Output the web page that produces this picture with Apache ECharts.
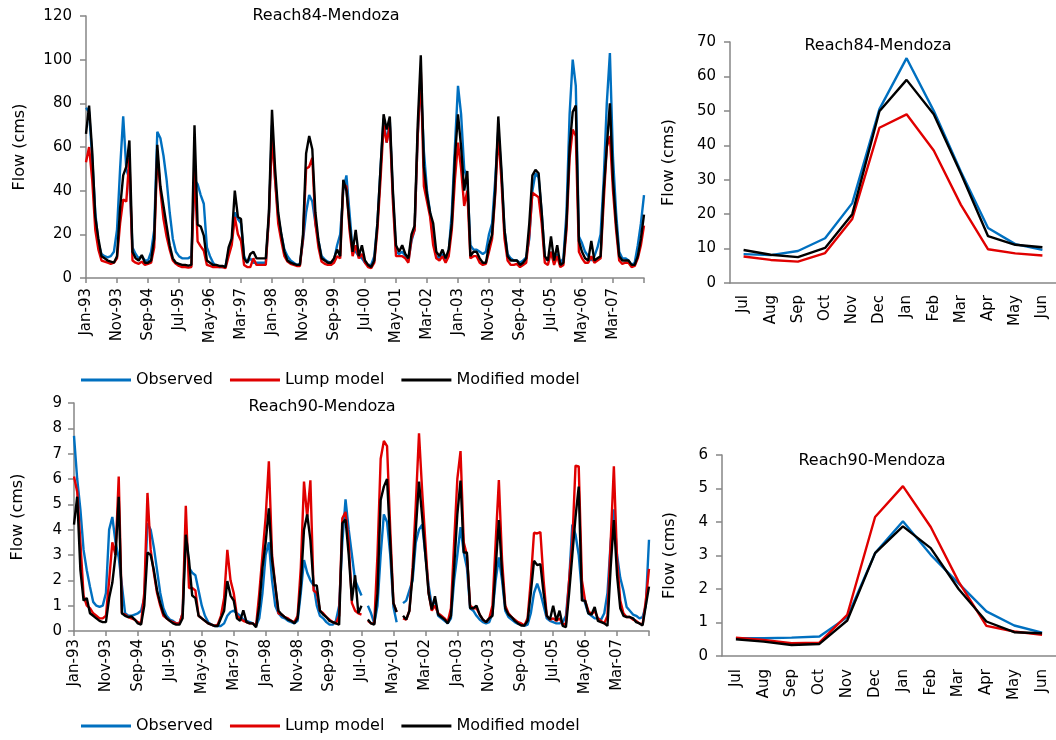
<!DOCTYPE html>
<html>
<head>
<meta charset="utf-8">
<script src="https://cdn.jsdelivr.net/npm/echarts@6/dist/echarts.min.js"></script>
<style>
html,body{margin:0;padding:0;background:#fff;}
#chart{width:1056px;height:740px;}
</style>
</head>
<body>
<div id="chart"></div>
<script>
// ---------- DATA ----------
const MONTHS = ['Jan','Feb','Mar','Apr','May','Jun','Jul','Aug','Sep','Oct','Nov','Dec'];
const START_YEAR = 1993;
const N_MONTHS = 181; // Jan-93 .. Jan-08
const seasonMonths = ['Jul','Aug','Sep','Oct','Nov','Dec','Jan','Feb','Mar','Apr','May','Jun'];
const seriesNames = ['Observed','Lump model','Modified model'];

// Reach84 monthly flows (cms)
const obs84 = [78,76,55,30,16,11,10,9.5,10,12,22,50,
74,50,45,14,11,9,10,8,8,12,22,67,
64,56,45,30,18,12,10,9,9,9,10,45,
43,38,34,14,10,7,5.5,5,5,5.5,12,17,
30,27,25,10,7,9,7,7,7,7,7,28,
70,45,28,20,13,10,8,7,6,6.5,17,30,
38,35,25,17,10,8.5,7.5,7,8,15,20,40,
47,30,13,12,10,9,7,6,6,10,25,50,
73,62,72,38,12,11,12,10,8,17,22,65,
90,58,40,30,18,10,9,11,8,12,30,60,
88,75,50,45,15,13,13,12,11,12,20,25,
45,68,48,22,11,9,8,8,7,8,9.5,18,
40,48,46,30,9,8,12,7,11,7,9,30,
75,100,88,19,16,12,10,8,10,14,20,45,
80,103,55,30,12,9,9,8,6,7,15,25,38];
const lump84 = [53,60,45,22,13,8,7.5,7,6.5,7,9,25,
36,35,55,8,7,6.5,7.5,6,6.5,7,14,57,
40,27,19,13,8,6.5,5.5,5,5,4.8,5,50,
16.8,14.5,12.5,6,5.5,5,5,5,5,4.5,10,15,
28,20,17,6,5,5,9,6,6,6,6,28,
65,45,25,17,10,7.5,6.5,6,5.5,5.5,18,50,
51,55,25,14,7.5,6.5,6,6,7,10,9,43,
42,22,10,15,9,11,7,5,4.5,7,22,45,
70,62,70,35,10,10,10,9,7,18,22,65,
95,42,35,28,15,9,8,10,7,10,22,45,
62,50,33,40,9,10,10,7,6,6.5,12,18,
38,66,45,18,8,6,6,6.5,5,6,7,20,
39,38,37,25,7,6,12,6,10,5,6,22,
55,68,65,12,9,7,7,10,7,8,9,35,
60,65,40,22,8,6.5,7,7,5,5.5,9,15,24];
const mod84 = [66,79,58,28,18,10,9,8,7.5,7,10,32,
47,51,63,12,9,8,10.5,7,7,8,18,61,
42,33,24,15,9,7,6.5,6,6,5.7,6,70,
24.4,23.6,19.4,8,7,6,6,5.5,5.5,5,14,18,
40,28,27,9,7,11,12,9,9,9,9,30,
77,50,30,20,12,8,7,6.5,6,6,20,57,
65,59,30,17,9,8,7,7,9,13,10,45,
40,25,12,22,10,15,8,6,5,8,25,50,
75,68,74,40,15,12,15,11,9,20,24,70,
102,51,38,30,25,12,10,13,9,13,25,55,
75,60,40,49,10,12,12,9,7,7,15,20,
40,74,50,22,10,8,8,8,6,7,9,25,
47,49.5,48,30,10,8,19,8,15,6,7,25,
60,76,79,17,12,9,8,17,8,9,10,40,
60,80,45,25,10,8,8,8,6,6,10,18,29];

// Reach90 monthly flows (cms)
const obs90 = [7.7,6.0,4.8,3.2,2.4,1.75,1.15,1.0,0.95,1.0,1.5,4.0,
4.5,3.5,2.9,1.8,0.7,0.6,0.6,0.65,0.7,0.8,1.3,4.25,
4.0,3.3,2.4,1.5,0.9,0.6,0.45,0.4,0.3,0.3,0.7,4.0,
2.5,2.3,2.2,1.6,1.0,0.6,0.35,0.25,0.2,0.2,0.2,0.3,
0.6,0.75,0.8,0.7,0.6,0.45,0.4,0.35,0.3,0.2,0.5,1.5,
3.0,3.5,2.0,1.0,0.7,0.55,0.5,0.4,0.35,0.3,0.4,1.5,
2.8,2.3,2.0,1.8,1.0,0.6,0.5,0.35,0.25,0.25,0.4,1.0,
3.5,5.2,4.0,3.0,2.0,1.7,1.4,null,1.0,0.7,0.3,1.0,
3.0,4.6,4.3,3.0,0.95,0.35,null,1.1,1.2,1.6,2.0,3.5,
4.0,4.2,3.0,1.8,1.0,1.2,0.6,0.5,0.4,0.3,0.5,2.0,
3.0,4.1,3.1,2.5,0.9,0.8,0.6,0.45,0.35,0.3,0.35,0.7,
2.0,2.9,2.0,0.8,0.55,0.45,0.35,0.28,0.25,0.2,0.25,0.7,
1.5,1.87,1.5,1.0,0.5,0.4,0.35,0.3,0.3,0.35,0.6,2.0,
4.2,3.8,3.0,1.5,1.1,0.7,0.6,0.5,0.5,0.45,0.7,1.5,
3.5,4.8,3.0,2.1,1.6,0.95,0.8,0.65,0.6,0.5,0.55,1.0,3.6];
const lump90 = [6.1,5.5,3.5,1.4,1.0,0.9,0.7,0.6,0.5,0.5,0.6,2.0,
3.5,3.0,6.1,0.7,0.65,0.55,0.5,0.45,0.35,0.3,1.5,5.45,
3.2,2.3,1.5,1.0,0.6,0.5,0.4,0.35,0.3,0.3,0.7,4.94,
1.7,1.7,1.6,0.6,0.5,0.4,0.3,0.25,0.2,0.25,0.6,1.3,
3.2,2.0,1.5,0.6,0.5,0.4,0.35,0.3,0.3,0.2,1.5,3.0,
4.5,6.7,3.0,1.8,0.7,0.65,0.55,0.5,0.4,0.35,0.6,2.5,
5.9,4.5,5.95,1.6,1.5,0.8,0.7,0.55,0.45,0.35,0.3,0.6,
4.45,4.7,3.5,1.1,0.8,0.7,0.65,null,0.4,0.3,0.3,3.0,
6.8,7.5,7.3,4.0,1.1,0.75,null,0.5,0.45,0.8,2.5,5.0,
7.8,5.5,3.5,1.5,0.8,1.0,0.7,0.6,0.5,0.35,0.9,3.5,
6.0,7.1,3.5,3.0,1.0,0.9,0.9,0.65,0.45,0.35,0.5,1.0,
3.5,5.96,2.8,1.0,0.7,0.55,0.45,0.35,0.3,0.22,0.5,2.0,
3.88,3.85,3.9,2.0,0.6,0.45,0.5,0.4,0.5,0.25,0.3,2.0,
3.5,6.53,6.5,2.0,1.2,0.8,0.65,0.8,0.5,0.4,0.3,0.6,
3.5,6.5,2.8,1.2,0.7,0.55,0.55,0.45,0.4,0.3,0.25,1.2,2.45];
const mod90 = [4.2,5.3,2.4,1.2,1.3,0.7,0.6,0.5,0.4,0.35,0.35,1.3,
1.9,3.0,5.3,0.7,0.6,0.55,0.58,0.45,0.3,0.25,1.0,3.1,
3.0,2.4,1.6,1.1,0.7,0.5,0.4,0.3,0.25,0.25,0.5,3.8,
2.8,1.4,1.3,0.6,0.5,0.4,0.3,0.25,0.2,0.2,0.5,0.8,
1.97,1.4,1.2,0.5,0.4,0.82,0.35,0.3,0.3,0.15,1.0,2.5,
3.5,4.84,2.8,1.8,0.8,0.65,0.55,0.45,0.4,0.3,0.5,1.8,
4.0,4.6,3.6,1.8,1.8,0.8,0.65,0.55,0.4,0.35,0.3,0.25,
4.25,4.4,3.0,1.2,2.2,0.7,1.0,null,0.45,0.3,0.25,1.5,
5.17,5.7,6.0,3.5,1.1,0.75,null,0.6,0.45,0.8,2.2,4.0,
5.9,4.5,3.0,1.5,0.85,1.37,0.65,0.55,0.45,0.3,0.6,2.5,
4.6,5.94,3.1,3.1,0.9,0.9,1.0,0.65,0.45,0.35,0.5,0.6,
2.5,4.38,2.3,0.9,0.65,0.55,0.4,0.3,0.22,0.22,0.4,1.5,
2.77,2.6,2.64,1.5,0.6,0.45,1.0,0.4,0.8,0.2,0.15,1.5,
3.0,4.5,5.7,1.2,1.2,0.7,0.65,0.95,0.4,0.35,0.3,0.2,
2.5,4.38,2.2,0.9,0.6,0.55,0.55,0.5,0.35,0.3,0.22,1.0,1.75];

// Mean monthly flows (Jul..Jun)
const obsMean84 = [8.4,8.1,9.3,13,23.2,50.5,65.3,50,32.3,16,11.3,9.6];
const lumpMean84 = [7.7,6.7,6.2,8.7,18.6,45.1,49,38.5,22.7,9.8,8.6,8];
const modMean84 = [9.6,8.2,7.5,10.2,20,49.9,59,49,31.8,13.6,11.1,10.4];
const obsMean90 = [0.53,0.53,0.55,0.58,1.16,3.07,4.02,3.02,2.17,1.33,0.91,0.7];
const lumpMean90 = [0.55,0.48,0.38,0.4,1.23,4.15,5.07,3.85,2.22,0.9,0.73,0.63];
const modMean90 = [0.5,0.43,0.33,0.36,1.06,3.07,3.87,3.22,2.0,1.03,0.71,0.68];

// ---------- BUILD ----------
const dateLabels = [];
for (let k = 0; k < N_MONTHS; k++) {
  const y = START_YEAR + Math.floor(k / 12);
  dateLabels.push(MONTHS[k % 12] + '-' + String(y % 100).padStart(2, '0'));
}

const FONT = 'DejaVu Sans';
const AXIS_COLOR = '#868686';
const COLORS = ['#0070C0', '#E00000', '#000000'];

function xTime(gridIndex, margin) {
  return {
    type: 'category', gridIndex, data: dateLabels, boundaryGap: false,
    axisLine: { lineStyle: { color: AXIS_COLOR, width: 1.5 } },
    axisTick: { length: 5, interval: (i) => i % 10 === 0, lineStyle: { color: AXIS_COLOR, width: 1.5 } },
    axisLabel: { rotate: 90, margin, interval: (i) => i % 10 === 0 && i < 180,
      fontFamily: FONT, fontSize: 15, color: '#000' },
    splitLine: { show: false }
  };
}
function xSeason(gridIndex, margin) {
  return {
    type: 'category', gridIndex, data: seasonMonths, boundaryGap: true,
    axisLine: { lineStyle: { color: AXIS_COLOR, width: 1.5 } },
    axisTick: { length: 5, lineStyle: { color: AXIS_COLOR, width: 1.5 } },
    axisLabel: { rotate: 90, margin, interval: 0, fontFamily: FONT, fontSize: 15, color: '#000' },
    splitLine: { show: false }
  };
}
function yVal(gridIndex, max, interval, nameGap, labelMargin) {
  return {
    type: 'value', gridIndex, min: 0, max, interval,
    name: 'Flow (cms)', nameLocation: 'middle', nameGap, nameRotate: 90,
    nameTextStyle: { fontFamily: FONT, fontSize: 16, color: '#000', verticalAlign: 'middle', align: 'center' },
    axisLine: { show: true, lineStyle: { color: AXIS_COLOR, width: 1.5 } },
    axisTick: { show: true, length: 6, lineStyle: { color: AXIS_COLOR, width: 1.5 } },
    axisLabel: { margin: labelMargin, fontFamily: FONT, fontSize: 15, color: '#000' },
    splitLine: { show: false }
  };
}
function line(name, idx, data, color) {
  return {
    type: 'line', name, xAxisIndex: idx, yAxisIndex: idx, data,
    showSymbol: false, symbol: 'none', connectNulls: false,
    lineStyle: { color, width: 2.4 }, itemStyle: { color },
    emphasis: { disabled: true }
  };
}
function titleText(text, x, y) {
  return { type: 'text', x, y, style: { text, align: 'center', verticalAlign: 'middle',
    font: '16px "' + FONT + '"', fill: '#000' } };
}
function legendAt(top) {
  return {
    data: seriesNames, left: 76, top, icon: 'rect', itemWidth: 50, itemHeight: 3, itemGap: 17,
    textStyle: { fontFamily: FONT, fontSize: 16, color: '#000' },
    selectedMode: false
  };
}

const option = {
  animation: false,
  backgroundColor: '#fff',
  grid: [
    { left: 86, top: 16, width: 558, height: 262 },
    { left: 74, top: 403, width: 575, height: 228 },
    { left: 730, top: 42, width: 326, height: 241 },
    { left: 722, top: 455, width: 334, height: 201 }
  ],
  xAxis: [ xTime(0, 10), xTime(1, 8), xSeason(2, 12), xSeason(3, 13) ],
  yAxis: [ yVal(0, 120, 20, 66, 14), yVal(1, 9, 1, 56, 12), yVal(2, 70, 10, 61, 14), yVal(3, 6, 1, 52, 14) ],
  legend: [ legendAt(367), legendAt(713) ],
  graphic: [
    titleText('Reach84-Mendoza', 326, 16),
    titleText('Reach90-Mendoza', 322, 407),
    titleText('Reach84-Mendoza', 878, 46),
    titleText('Reach90-Mendoza', 872, 461)
  ],
  series: [
    line(seriesNames[0], 0, obs84, COLORS[0]),
    line(seriesNames[1], 0, lump84, COLORS[1]),
    line(seriesNames[2], 0, mod84, COLORS[2]),
    line(seriesNames[0], 1, obs90, COLORS[0]),
    line(seriesNames[1], 1, lump90, COLORS[1]),
    line(seriesNames[2], 1, mod90, COLORS[2]),
    line(seriesNames[0], 2, obsMean84, COLORS[0]),
    line(seriesNames[1], 2, lumpMean84, COLORS[1]),
    line(seriesNames[2], 2, modMean84, COLORS[2]),
    line(seriesNames[0], 3, obsMean90, COLORS[0]),
    line(seriesNames[1], 3, lumpMean90, COLORS[1]),
    line(seriesNames[2], 3, modMean90, COLORS[2])
  ]
};

const chart = echarts.init(document.getElementById('chart'), null, { renderer: 'canvas' });
chart.setOption(option);
</script>
</body>
</html>
